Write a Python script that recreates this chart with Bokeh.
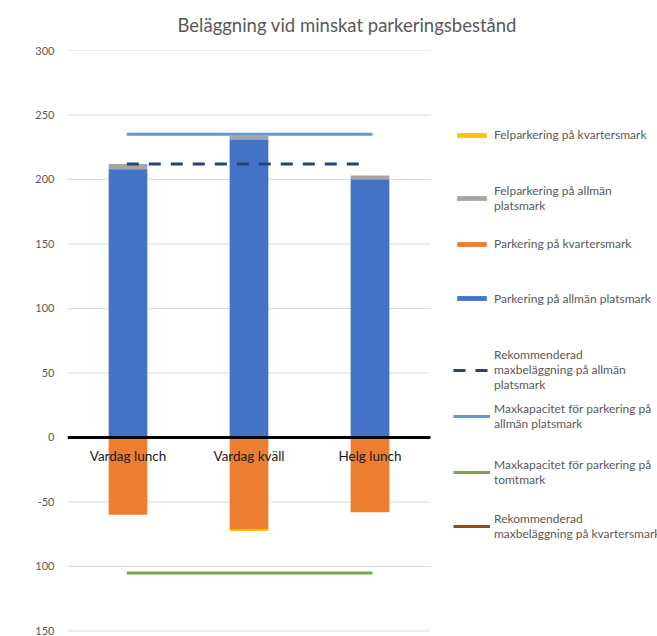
from bokeh.plotting import figure
from bokeh.models import Legend, LegendItem, FixedTicker
from bokeh.embed import file_html
from bokeh.resources import INLINE
from bokeh.core.properties import value

nan = float("nan")

# ---- data ----
categories = ["Vardag lunch", "Vardag kväll", "Helg lunch"]
felparkering_kvarter = [0, 1.5, 0]      # plotted downward
felparkering_allman = [4, 3, 3]
parkering_kvarter = [60, 71, 58]        # plotted downward
parkering_allman = [208, 231, 200]

rek_allman_x = [0.49, 2.44]
rek_allman_y = [212, 212]
max_allman_x = [0.49, 2.52]
max_allman_y = [235, 235]
max_tomt_x = [0.49, 2.52]
max_tomt_y = [-105, -105]
rek_kvarter_x = [0.49, 2.52]
rek_kvarter_y = [nan, nan]              # no visible values in the chart

y_ticks = [-150, -100, -50, 0, 50, 100, 150, 200, 250, 300]
y_tick_labels = ["150", "100", "-50", "0", "50", "100", "150", "200", "250", "300"]

legend_labels = [
    "Felparkering på kvartersmark",
    "Felparkering på allmän\nplatsmark",
    "Parkering på kvartersmark",
    "Parkering på allmän platsmark",
    "Rekommenderad\nmaxbeläggning på allmän\nplatsmark",
    "Maxkapacitet för parkering på\nallmän platsmark",
    "Maxkapacitet för parkering på\ntomtmark",
    "Rekommenderad\nmaxbeläggning på kvartersmark",
]

FONT = "Lato"
GREY_TXT = "#595959"
N_CAT = len(categories)
FRAME_LEFT, PLOT_W, TOTAL_W, TOTAL_H = 67, 363, 657, 636
FRAME_W = TOTAL_W - FRAME_LEFT
X_END = N_CAT * FRAME_W / PLOT_W

xs = [i + 0.5 for i in range(N_CAT)]

p = figure(width=TOTAL_W, height=TOTAL_H, x_range=(0, X_END), y_range=(-152, 300),
           output_backend="svg", toolbar_location=None, x_axis_location=None,
           min_border_left=FRAME_LEFT, min_border_right=0, min_border_top=50,
           min_border_bottom=3)
p.outline_line_color = None
p.title.text = "Beläggning vid minskat parkeringsbestånd"
p.title.text_font = FONT
p.title.text_font_size = "18.5px"
p.title.text_font_style = "normal"
p.title.text_color = GREY_TXT
p.title.align = "left"
p.title.offset = 110
p.title.vertical_align = "top"
p.title.standoff = 25

p.xgrid.visible = False
p.ygrid.visible = False
yax = p.yaxis[0]
yax.ticker = FixedTicker(ticks=y_ticks)
yax.major_label_overrides = {t: l for t, l in zip(y_ticks, y_tick_labels)}
yax.axis_line_color = None
yax.major_tick_line_color = None
yax.minor_tick_line_color = None
yax.major_label_text_font = FONT
yax.major_label_text_font_size = "11px"
yax.major_label_text_color = GREY_TXT
yax.major_label_standoff = 7

# gridlines limited to the category area
grid_vals = [t for t in y_ticks if t != 0]
p.segment(x0=[0] * len(grid_vals), x1=[N_CAT] * len(grid_vals),
          y0=grid_vals, y1=grid_vals, line_color="#d9d9d9", line_width=1)

W = 0.32
blue_top = parkering_allman
grey_top = [a + b for a, b in zip(parkering_allman, felparkering_allman)]
orange_bot = [-v for v in parkering_kvarter]
yellow_bot = [-(a + b) for a, b in zip(parkering_kvarter, felparkering_kvarter)]

r_yellow = p.vbar(x=xs, width=W, top=orange_bot, bottom=yellow_bot,
                  fill_color="#FFC000", line_color=None)
r_grey = p.vbar(x=xs, width=W, top=grey_top, bottom=blue_top,
                fill_color="#A5A5A5", line_color=None)
r_orange = p.vbar(x=xs, width=W, top=[0] * N_CAT, bottom=orange_bot,
                  fill_color="#ED7D31", line_color=None)
r_blue = p.vbar(x=xs, width=W, top=blue_top, bottom=[0] * N_CAT,
                fill_color="#4472C4", line_color=None)

# zero axis line
p.segment(x0=[0], x1=[N_CAT], y0=[0], y1=[0], line_color="black", line_width=3)

r_rek = p.line(rek_allman_x, rek_allman_y, line_color="#264478", line_width=3,
               line_dash="12 10")
r_maxa = p.line(max_allman_x, max_allman_y, line_color="#5B9BD5", line_width=3)
r_maxt = p.line(max_tomt_x, max_tomt_y, line_color="#70AD47", line_width=3)
r_rekk = p.line(rek_kvarter_x, rek_kvarter_y, line_color="#9E480E", line_width=3)

p.text(x=xs, y=[0] * N_CAT, text=categories, y_offset=11, text_baseline="top",
       text_align="center", text_font=value(FONT), text_font_size="13.5px",
       text_color="#1a1a1a")

# legend: one entry per slot, as in the original
renderers = [r_yellow, r_grey, r_orange, r_blue, r_rek, r_maxa, r_maxt, r_rekk]
slot_first_line = [134, 188.5, 243, 297.5, 352, 407, 463, 517]
LINE_H = 16
frame_bottom = TOTAL_H - 3
for lab, r, c in zip(legend_labels, renderers, slot_first_line):
    n = lab.count("\n") + 1
    bottom = c - LINE_H / 2 + LINE_H * n
    lg = Legend(items=[LegendItem(label=lab, renderers=[r])],
                location=(453 - FRAME_LEFT, frame_bottom - bottom),
                orientation="vertical", glyph_width=37, glyph_height=6,
                label_standoff=4, label_text_font=FONT,
                label_text_font_size="12px", label_text_line_height=1.33,
                label_text_color=GREY_TXT, label_height=14, spacing=0,
                padding=0, margin=0, border_line_color=None,
                background_fill_alpha=0)
    p.add_layout(lg)

open("out.html", "w").write(file_html(p, INLINE))
